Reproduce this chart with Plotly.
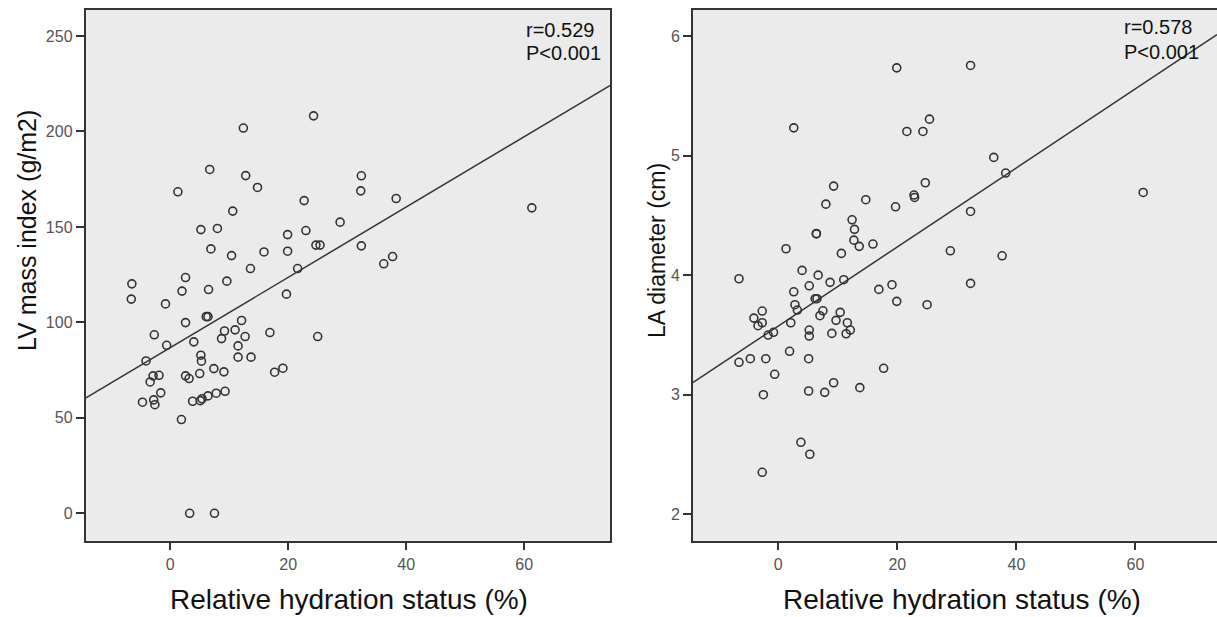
import plotly.graph_objects as go

# ---- data: left panel (LV mass index) ----
lv_x = [24.3, 12.4, 6.7, 12.8, 14.8, 1.3, 32.4, 32.3, 38.3, 61.3, 22.7, 10.6, 5.2, 8.0, 28.8,
        19.9, 23.0, 6.9, 10.4, 15.9, 19.9, 24.7, 25.4, 32.4, 36.2, 37.7, 13.6, 21.6, 2.6, 9.6, -6.5,
        -6.6, 2.0, 6.5, 19.7, -0.8, 6.1, 6.4, 2.6, 12.1, -2.7, 9.2, 11.0, 8.7, 12.7, 16.9, 25.0,
        -0.6, 4.0, 11.5, -4.1, 5.2, 5.3, 11.5, 13.7, -3.4, -2.9, -1.9, 2.6, 3.2, 5.0, 7.4, 9.1,
        17.7, 19.1, -1.6, -4.7, -2.8, -2.6, 3.8, 5.1, 5.4, 6.4, 7.8, 9.3, 1.9, 3.3, 7.5]
lv_y = [208.2, 201.8, 180.1, 176.9, 170.7, 168.4, 176.8, 168.9, 164.9, 160.0, 163.8, 158.3, 148.6, 149.2, 152.5,
        146.0, 148.1, 138.5, 135.0, 136.9, 137.3, 140.5, 140.5, 140.1, 130.7, 134.5, 128.2, 128.2, 123.5, 121.6, 120.2,
        112.2, 116.4, 117.2, 114.8, 109.7, 103.0, 103.0, 99.9, 101.0, 93.5, 95.5, 96.1, 91.5, 92.6, 94.7, 92.6,
        88.0, 89.8, 87.7, 79.8, 82.8, 79.7, 81.8, 81.8, 68.8, 72.0, 72.3, 72.0, 70.6, 73.2, 75.8, 74.1,
        73.9, 76.0, 63.1, 58.2, 59.4, 56.9, 58.7, 59.0, 60.0, 61.5, 62.9, 63.9, 49.1, 0.0, 0.0]

# ---- data: right panel (LA diameter) ----
la_x = [19.9, 32.3, 2.6, 21.6, 24.3, 25.4, 36.2, 38.2, 61.3, 9.3, 8.0, 14.7, 19.7, 22.8, 22.9,
        24.7, 32.3, 12.4, 12.8, 12.7, 13.6, 15.9, 6.4, 6.4, 1.3, 10.6, 28.9, 37.6, 4.0, 6.7,
        -6.6, 8.7, 11.0, 16.9, 19.1, 32.3, 2.6, 5.2, 6.2, 6.5, 19.9, 25.0, 2.8, 3.2, -2.7,
        -4.1, -2.7, -3.4, 2.1, 7.5, 7.0, 10.4, 9.7, 11.6, 12.1, 11.4, 5.2, 5.2, 9.0, -1.7,
        -0.8, -6.6, -4.7, -2.1, 1.9, 5.1, -0.6, 17.7, 9.3, 13.7, -2.5, 5.1, 7.8, 3.8, 5.3, -2.7]
la_y = [5.734, 5.754, 5.232, 5.202, 5.202, 5.305, 4.985, 4.854, 4.692, 4.745, 4.594, 4.631, 4.572, 4.67, 4.65,
        4.773, 4.533, 4.463, 4.383, 4.293, 4.241, 4.26, 4.349, 4.345, 4.221, 4.182, 4.204, 4.162, 4.04, 4.0,
        3.97, 3.94, 3.962, 3.881, 3.92, 3.931, 3.861, 3.911, 3.803, 3.803, 3.781, 3.753, 3.753, 3.708, 3.7,
        3.641, 3.602, 3.577, 3.602, 3.702, 3.661, 3.689, 3.622, 3.602, 3.541, 3.51, 3.541, 3.491, 3.513, 3.499,
        3.522, 3.271, 3.301, 3.301, 3.363, 3.301, 3.171, 3.221, 3.1, 3.059, 3.0, 3.031, 3.02, 2.602, 2.502, 2.351]

# regression fits (intercept, slope)
lv_fit = (86.75, 1.842)
la_fit = (3.575, 0.03306)

lv_stats = ["r=0.529", "P<0.001"]
la_stats = ["r=0.578", "P<0.001"]

x_ticks = [0, 20, 40, 60]
lv_ticks = [0, 50, 100, 150, 200, 250]
la_ticks = [2, 3, 4, 5, 6]

# axis ranges
lv_xr = [-14.36, 74.6]
lv_yr = [-14.35, 263.9]
la_xr = [-14.36, 73.7]
la_yr = [1.779, 6.222]

W, H = 1217, 617
DARK = "#333333"
FONT = "Liberation Sans, Arial, sans-serif"

def px(v):
    return v / W

def py(v):
    return (H - v) / H

fig = go.Figure()

marker = dict(symbol="circle-open", size=8, color=DARK, line=dict(width=1.6, color=DARK))

fig.add_trace(go.Scatter(x=lv_x, y=lv_y, mode="markers", marker=marker, xaxis="x", yaxis="y", showlegend=False))
fig.add_trace(go.Scatter(x=lv_xr, y=[lv_fit[0] + lv_fit[1] * v for v in lv_xr], mode="lines",
                         line=dict(color=DARK, width=1.5), xaxis="x", yaxis="y", showlegend=False))
fig.add_trace(go.Scatter(x=la_x, y=la_y, mode="markers", marker=marker, xaxis="x2", yaxis="y2", showlegend=False))
fig.add_trace(go.Scatter(x=la_xr, y=[la_fit[0] + la_fit[1] * v for v in la_xr], mode="lines",
                         line=dict(color=DARK, width=1.5), xaxis="x2", yaxis="y2", showlegend=False))

common = dict(showline=True, linecolor=DARK, linewidth=1.5, ticks="outside", ticklen=8, tickwidth=1.5,
              tickcolor=DARK, showgrid=False, zeroline=False, automargin=False,
              tickfont=dict(family=FONT, size=16, color="#555555"))

ydom = [py(540.7), py(9.5)]

fig.update_layout(
    width=W, height=H, margin=dict(l=0, r=0, t=0, b=0, autoexpand=False),
    paper_bgcolor="white", plot_bgcolor="#ebebeb",
    xaxis=dict(domain=[px(85.5), px(610.3)], range=lv_xr, tickvals=x_ticks, mirror=True, anchor="y", **common),
    yaxis=dict(domain=ydom, range=lv_yr, tickvals=lv_ticks, mirror=True, anchor="x", **common),
    xaxis2=dict(domain=[px(692.8), 1.0], range=la_xr, tickvals=x_ticks, mirror=True, anchor="y2", **common),
    yaxis2=dict(domain=ydom, range=la_yr, tickvals=la_ticks, mirror=False, anchor="x2", **common),
)

ann = []
title_font = dict(family=FONT, size=28, color="#111111")
ann.append(dict(text="Relative hydration status (%)", x=px(349.4), y=py(599), xref="paper", yref="paper",
                xanchor="center", yanchor="middle", showarrow=False, font=title_font))
ann.append(dict(text="Relative hydration status (%)", x=px(962), y=py(599), xref="paper", yref="paper",
                xanchor="center", yanchor="middle", showarrow=False, font=title_font))
ann.append(dict(text="LV mass index (g/m2)", x=px(27), y=py(231), xref="paper", yref="paper",
                xanchor="center", yanchor="middle", textangle=-90, showarrow=False,
                font=dict(family=FONT, size=25, color="#111111")))
ann.append(dict(text="LA diameter (cm)", x=px(657), y=py(251), xref="paper", yref="paper",
                xanchor="center", yanchor="middle", textangle=-90, showarrow=False,
                font=dict(family=FONT, size=23, color="#111111")))

stat_font = dict(family=FONT, size=20, color="#111111")
for t, yy in zip(lv_stats, [30, 53]):
    ann.append(dict(text=t, x=px(524), y=py(yy), xref="paper", yref="paper", xanchor="left",
                    yanchor="middle", showarrow=False, font=stat_font))
for t, yy in zip(la_stats, [27, 52]):
    ann.append(dict(text=t, x=px(1121.5), y=py(yy), xref="paper", yref="paper", xanchor="left",
                    yanchor="middle", showarrow=False, font=stat_font))

fig.update_layout(annotations=ann)

fig.write_html("out.html", config={"displayModeBar": False},
               post_script="document.body.style.margin='0';document.body.style.overflow='hidden';")
